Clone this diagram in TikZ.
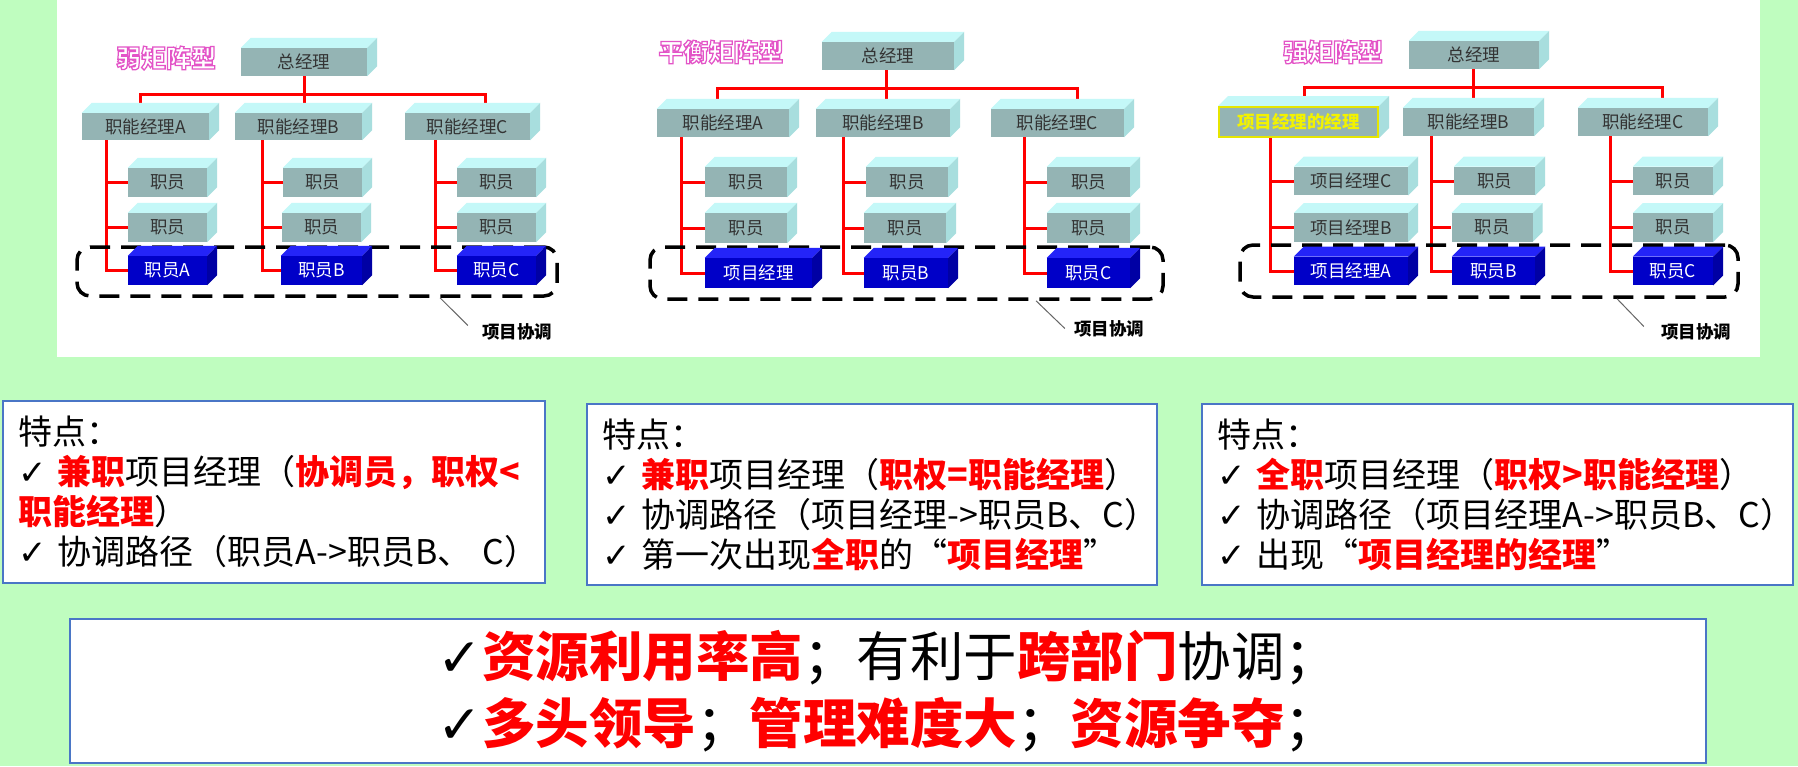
\documentclass[tikz,border=0pt]{standalone}
\usepackage{fontspec}
\setmainfont{Noto Sans CJK SC}
\newfontfamily\symfont{DejaVu Sans}
\usepackage{tikz}
\usetikzlibrary{positioning}
\usetikzlibrary{calc}

\definecolor{bggreen}{HTML}{BFFDBF}
\definecolor{facefront}{HTML}{94B4B4}
\definecolor{facetop}{HTML}{C4F8F8}
\definecolor{faceside}{HTML}{A8DEDE}
\definecolor{bluefront}{HTML}{0000C8}
\definecolor{bluetop}{HTML}{2424F8}
\definecolor{blueside}{HTML}{0000A4}
\definecolor{boxblue}{HTML}{4A76C6}
\definecolor{yellowb}{HTML}{E6E600}
\definecolor{yellowt}{HTML}{F2F200}

\pgfdeclarelayer{back}
\pgfdeclarelayer{lines}
\pgfsetlayers{back,lines,main}

\newcommand{\featfont}{\fontsize{34}{40}\selectfont\exhyphenpenalty=10000\relax\hyphenpenalty=10000\relax}

\tikzset{faces/.style 2 args={append after command={\pgfextra{
    \fill[#1] (\tikzlastnode.north west) -- ++(10,-10) -- ([shift={(10,-10)}]\tikzlastnode.north east) -- (\tikzlastnode.north east) -- cycle;
    \fill[#2] (\tikzlastnode.north east) -- ++(10,-10) -- ([shift={(10,-10)}]\tikzlastnode.south east) -- (\tikzlastnode.south east) -- cycle;}}}}
\tikzstyle{cube}      = [fill=facefront, text=black!80, inner sep=0pt, font=\fontsize{17.5}{20}\selectfont, faces={facetop}{faceside}]
\tikzstyle{bluecube}  = [fill=bluefront, text=white,    inner sep=0pt, font=\fontsize{17.5}{20}\selectfont, faces={bluetop}{blueside}]
\tikzstyle{redline}   = [red, line width=3pt]
\tikzstyle{coordbox}  = [draw, line width=3.5pt, dash pattern=on 20pt off 11pt, rounded corners=13pt, inner sep=0pt]
\tikzstyle{coordtag}  = [inner sep=0pt, font=\bfseries\fontsize{17.5}{20}\selectfont]
\tikzstyle{tagline}   = [black!60, line width=1pt]
\tikzstyle{typetitle} = [inner sep=0pt, text=white, font=\bfseries\fontsize{25}{25}\selectfont]
\tikzstyle{featbox}   = [draw=boxblue, line width=2pt, fill=white, anchor=north west, inner xsep=15pt, inner ysep=0pt, align=left, font=\featfont]
\tikzstyle{sumbox}    = [draw=boxblue, line width=2pt, fill=white, inner sep=0pt, align=left, font=\fontsize{53.5}{67}\selectfont]

\newcommand{\ck}{{\symfont ✓}}
\newcommand{\ckb}{{\symfont\bfseries ✓}}
\newcommand{\redb}[1]{\textcolor{red}{\bfseries #1}}
\newcommand{\pinktitle}[1]{\special{pdf:literal direct 2 Tr 1.25 w 0.89 0.33 0.78 RG}#1\special{pdf:literal direct 0 Tr}}

\begin{document}
\begin{tikzpicture}[x=1pt,y=-1pt]
\useasboundingbox (0,0) rectangle (1798,766);
\begin{pgfonlayer}{back}
    \fill[bggreen] (0,0) rectangle (1798,766);
    \fill[white] (57,0) rectangle (1760,357);
\end{pgfonlayer}

% weak matrix
\node at (317,271.5)  [coordbox,minimum width=480,minimum height=49]        (nCoL)    {};
\node at (166,58)     [typetitle]                                            (nTitleL) {\pinktitle{弱矩阵型}};
\node at (304,62)     [cube,minimum width=126,minimum height=28]             (nGML)    {总经理};
\node at (145.5,126.5)[cube,minimum width=127,minimum height=27]             (nFAL)    {职能经理A};
\node at (298.5,126.5)[cube,minimum width=127,minimum height=27]             (nFBL)    {职能经理B};
\node at (467.5,126.5)[cube,minimum width=125,minimum height=27]             (nFCL)    {职能经理C};
\node at (167.5,182.5)[cube,minimum width=79,minimum height=29]              (nSAL1)   {职员};
\node at (167.5,227.5)[cube,minimum width=79,minimum height=29]              (nSAL2)   {职员};
\node at (167.5,270.5)[bluecube,minimum width=79,minimum height=29]          (nSAL3)   {职员A};
\node at (322.5,182.5)[cube,minimum width=79,minimum height=29]              (nSBL1)   {职员};
\node at (321.5,227.5)[cube,minimum width=79,minimum height=29]              (nSBL2)   {职员};
\node at (321.5,270.5)[bluecube,minimum width=81,minimum height=29]          (nSBL3)   {职员B};
\node at (496.5,182.5)[cube,minimum width=79,minimum height=29]              (nSCL1)   {职员};
\node at (496.5,227.5)[cube,minimum width=79,minimum height=29]              (nSCL2)   {职员};
\node at (496.5,270.5)[bluecube,minimum width=79,minimum height=29]          (nSCL3)   {职员C};
\node at (517,332)    [coordtag]                                             (nLabL)   {项目协调};
\draw[tagline] ([xshift=123]nCoL.south) -- ([xshift=-14,yshift=-2]nLabL.north west);

% balanced matrix
\node at (906.5,273)  [coordbox,minimum width=513,minimum height=52]        (nCoM)    {};
\node at (721,52)     [typetitle]                                            (nTitleM) {\pinktitle{平衡矩阵型}};
\node at (888,56)     [cube,minimum width=132,minimum height=28]             (nGMM)    {总经理};
\node at (723,123)    [cube,minimum width=132,minimum height=28]             (nFAM)    {职能经理A};
\node at (883,123)    [cube,minimum width=134,minimum height=28]             (nFBM)    {职能经理B};
\node at (1057.5,123) [cube,minimum width=133,minimum height=28]             (nFCM)    {职能经理C};
\node at (746,182)    [cube,minimum width=82,minimum height=30]              (nSAM1)   {职员};
\node at (746,228)    [cube,minimum width=82,minimum height=30]              (nSAM2)   {职员};
\node at (758.5,273)  [bluecube,minimum width=107,minimum height=30]         (nSAM3)   {项目经理};
\node at (907,182)    [cube,minimum width=82,minimum height=30]              (nSBM1)   {职员};
\node at (905,228)    [cube,minimum width=82,minimum height=30]              (nSBM2)   {职员};
\node at (906,273)    [bluecube,minimum width=84,minimum height=30]          (nSBM3)   {职员B};
\node at (1088.5,182) [cube,minimum width=83,minimum height=30]              (nSCM1)   {职员};
\node at (1088.5,228) [cube,minimum width=83,minimum height=30]              (nSCM2)   {职员};
\node at (1088.5,273) [bluecube,minimum width=83,minimum height=30]          (nSCM3)   {职员C};
\node at (1109,329)   [coordtag]                                             (nLabM)   {项目协调};
\draw[tagline] ([xshift=129.5]nCoM.south) -- ([xshift=-9,yshift=-8]nLabM.north west);

% strong matrix
\node at (1489,271)   [coordbox,minimum width=498,minimum height=52]        (nCoR)    {};
\node at (1333,52)    [typetitle]                                            (nTitleR) {\pinktitle{强矩阵型}};
\node at (1474,55)    [cube,minimum width=130,minimum height=28]             (nGMR)    {总经理};
\node at (1298.5,122) [cube,minimum width=159,minimum height=30,draw=yellowb,line width=2pt,text=yellowt] (nFAR) {\bfseries 项目经理的经理};
\node at (1468.5,122) [cube,minimum width=131,minimum height=28]             (nFBR)    {职能经理B};
\node at (1643,122)   [cube,minimum width=130,minimum height=28]             (nFCR)    {职能经理C};
\node at (1351,181)   [cube,minimum width=114,minimum height=28.5]           (nSAR1)   {项目经理C};
\node at (1351,227.5) [cube,minimum width=114,minimum height=28.5]           (nSAR2)   {项目经理B};
\node at (1351,271)   [bluecube,minimum width=114,minimum height=28.5]       (nSAR3)   {项目经理A};
\node at (1494.5,181) [cube,minimum width=81,minimum height=28.5]            (nSBR1)   {职员};
\node at (1492,227.5) [cube,minimum width=81,minimum height=28.5]            (nSBR2)   {职员};
\node at (1493.5,271) [bluecube,minimum width=83,minimum height=28.5]        (nSBR3)   {职员B};
\node at (1673,181)   [cube,minimum width=80,minimum height=28.5]            (nSCR1)   {职员};
\node at (1673,227.5) [cube,minimum width=80,minimum height=28.5]            (nSCR2)   {职员};
\node at (1673,271)   [bluecube,minimum width=80,minimum height=28.5]        (nSCR3)   {职员C};
\node at (1696,332)   [coordtag]                                             (nLabR)   {项目协调};
\draw[tagline] ([xshift=128]nCoR.south) -- ([xshift=-17,yshift=-3]nLabR.north west);

\begin{pgfonlayer}{lines}
    \draw[redline] ([xshift=-5]nFAL.north) -- ++(0,-18) -| ([xshift=18]nFCL.north);
    \draw[redline] (nGML.south) -- (nGML.south |- nFBL.north);
    \draw[redline] ([xshift=25]nFAL.south west) |- (nSAL3.west);
    \draw[redline] ([xshift=25]nFAL.south west) |- (nSAL2.west);
    \draw[redline] ([xshift=25]nFAL.south west) |- (nSAL1.west);
    \draw[redline] ([xshift=28]nFBL.south west) |- (nSBL3.west);
    \draw[redline] ([xshift=28]nFBL.south west) |- (nSBL2.west);
    \draw[redline] ([xshift=28]nFBL.south west) |- (nSBL1.west);
    \draw[redline] ([xshift=31]nFCL.south west) |- (nSCL3.west);
    \draw[redline] ([xshift=31]nFCL.south west) |- (nSCL2.west);
    \draw[redline] ([xshift=31]nFCL.south west) |- (nSCL1.west);

    \draw[redline] ([xshift=-6]nFAM.north) -- ++(0,-20) -| ([xshift=20]nFCM.north);
    \draw[redline] ([xshift=-2]nGMM.south) -- ([xshift=-2]nGMM.south |- nFBM.north);
    \draw[redline] ([xshift=25]nFAM.south west) |- (nSAM3.west);
    \draw[redline] ([xshift=25]nFAM.south west) |- (nSAM2.west);
    \draw[redline] ([xshift=25]nFAM.south west) |- (nSAM1.west);
    \draw[redline] ([xshift=28]nFBM.south west) |- (nSBM3.west);
    \draw[redline] ([xshift=28]nFBM.south west) |- (nSBM2.west);
    \draw[redline] ([xshift=28]nFBM.south west) |- (nSBM1.west);
    \draw[redline] ([xshift=34]nFCM.south west) |- (nSCM3.west);
    \draw[redline] ([xshift=34]nFCM.south west) |- (nSCM2.west);
    \draw[redline] ([xshift=34]nFCM.south west) |- (nSCM1.west);

    \draw[redline] ([xshift=6]nFAR.north) -- ++(0,-19) -| ([xshift=19]nFCR.north);
    \draw[redline] ([xshift=-1]nGMR.south) -- ([xshift=-1]nGMR.south |- nFBR.north);
    \draw[redline] ([xshift=52]nFAR.south west) |- (nSAR3.west);
    \draw[redline] ([xshift=52]nFAR.south west) |- (nSAR2.west);
    \draw[redline] ([xshift=52]nFAR.south west) |- (nSAR1.west);
    \draw[redline] ([xshift=29]nFBR.south west) |- (nSBR3.west);
    \draw[redline] ([xshift=29]nFBR.south west) |- (nSBR2.west);
    \draw[redline] ([xshift=29]nFBR.south west) |- (nSBR1.west);
    \draw[redline] ([xshift=33]nFCR.south west) |- (nSCR3.west);
    \draw[redline] ([xshift=33]nFCR.south west) |- (nSCR2.west);
    \draw[redline] ([xshift=33]nFCR.south west) |- (nSCR1.west);
\end{pgfonlayer}

% features
\node at (2,400)    [featbox,text width=512,minimum width=542,minimum height=182] (nFeatL)
    {特点：\\ \ck~\redb{兼职}项目经理（\redb{协调员，职权<}\\ \redb{职能经理}）\\ \ck~协调路径（职员A->职员B、~C）};
\node at (586,403)  [featbox,text width=540,minimum width=570,minimum height=181] (nFeatM)
    {特点：\\ \ck~\redb{兼职}项目经理（\redb{职权=职能经理}）\\ \ck~协调路径（项目经理->职员B、C）\\ \ck~第一次出现\redb{全职}的“\redb{项目经理}”};
\node at (1201,403) [featbox,text width=561,minimum width=591,minimum height=181] (nFeatR)
    {特点：\\ \ck~\redb{全职}项目经理（\redb{职权>职能经理}）\\ \ck~协调路径（项目经理A->职员B、C）\\ \ck~出现“\redb{项目经理的经理}”};
\node at (888,691)  [sumbox,minimum width=1636,minimum height=144] (nSum)
    {\ckb\redb{资源利用率高}；有利于\redb{跨部门}协调；\\ \ckb\redb{多头领导}；\redb{管理难度大}；\redb{资源争夺}；};
\end{tikzpicture}
\end{document}
